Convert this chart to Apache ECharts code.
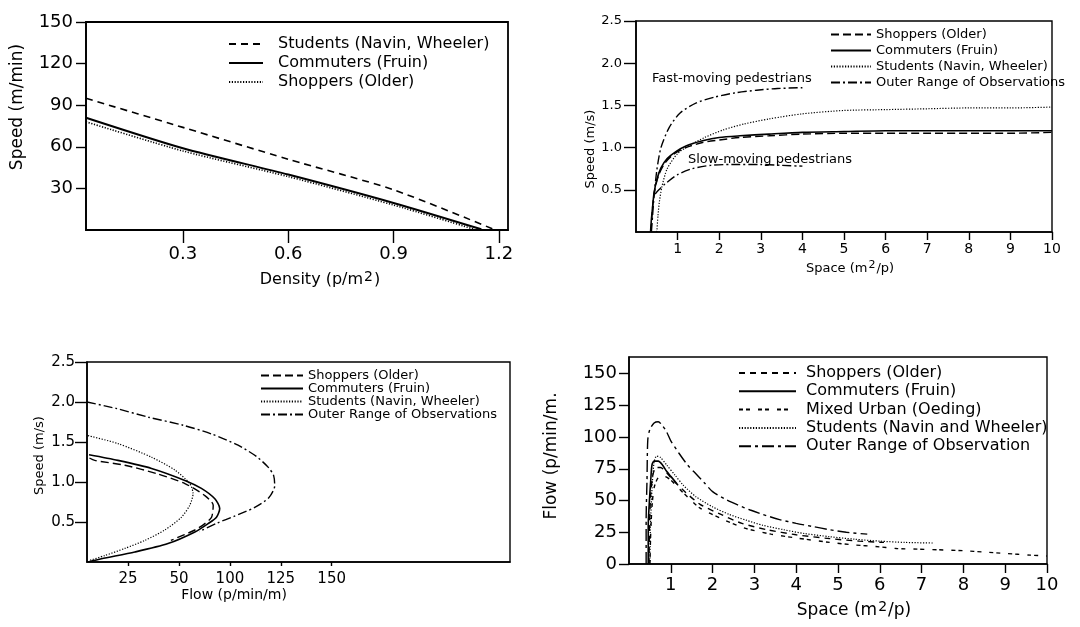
<!DOCTYPE html>
<html>
<head>
<meta charset="utf-8">
<script src="https://cdn.jsdelivr.net/npm/echarts@6/dist/echarts.min.js"></script>
<style>
  html, body { margin: 0; padding: 0; background: #fff; }
  #chart { width: 1080px; height: 627px; }
</style>
</head>
<body>
<div id="chart"></div>
<script>
// ---------- Panel A: speed (m/min) against density (p/m2) ----------
const densityTicks = [0.3, 0.6, 0.9, 1.2];
const speedMinTicks = [30, 60, 90, 120, 150];
const densStudents  = [[0.024, 95], [0.3, 74], [0.6, 51], [0.9, 29], [1.19, 0]];
const densCommuters = [[0.024, 81], [0.3, 59], [0.6, 40], [0.9, 19.5], [1.15, 0.5]];
const densShoppers  = [[0.024, 78], [0.3, 57], [0.6, 38.5], [0.9, 18], [1.13, 0.5]];

// ---------- Panel B: speed (m/s) against space (m2/p) ----------
const spaceTicks = [1, 2, 3, 4, 5, 6, 7, 8, 9, 10];
const speedMsTicks = [0.5, 1.0, 1.5, 2.0, 2.5];
const spcShoppers = [[0.36, 0], [0.4, 0.3], [0.45, 0.5], [0.55, 0.68], [0.7, 0.82], [0.9, 0.92], [1.2, 1.0], [1.6, 1.06], [2.0, 1.09], [2.5, 1.12], [3.2, 1.14], [4, 1.16], [5, 1.17], [6, 1.17], [7, 1.17], [8, 1.17], [9, 1.17], [10, 1.18]];
const spcCommuters = [[0.35, 0], [0.37, 0.15], [0.4, 0.3], [0.43, 0.45], [0.5, 0.62], [0.6, 0.76], [0.75, 0.87], [0.95, 0.95], [1.2, 1.02], [1.6, 1.08], [2.0, 1.12], [2.5, 1.14], [3.2, 1.16], [4, 1.18], [5, 1.19], [6, 1.2], [7, 1.2], [8, 1.2], [9, 1.2], [10, 1.2]];
const spcStudents = [[0.5, 0], [0.53, 0.2], [0.56, 0.35], [0.62, 0.53], [0.75, 0.75], [1.0, 0.93], [1.3, 1.03], [1.65, 1.12], [2.1, 1.21], [2.6, 1.28], [3.2, 1.34], [4, 1.4], [5, 1.44], [6, 1.45], [7, 1.46], [8, 1.47], [9, 1.47], [10, 1.48]];
const spcOuterHigh = [[0.37, 0], [0.4, 0.2], [0.43, 0.4], [0.5, 0.73], [0.6, 1.0], [0.8, 1.24], [1.06, 1.41], [1.45, 1.53], [1.9, 1.6], [2.4, 1.65], [2.9, 1.68], [3.4, 1.7], [4.0, 1.71]];
const spcOuterLow = [[0.46, 0.45], [0.55, 0.5], [0.7, 0.57], [1.0, 0.68], [1.35, 0.75], [1.8, 0.79], [2.3, 0.8], [3.0, 0.8], [3.5, 0.79], [4.0, 0.78]];

// ---------- Panel C: speed (m/s) against flow (p/min/m) ----------
const flowTicks = [25, 50, 75, 100, 125];
const flowTickLabels = ['25', '50', '100', '125', '150'];
const flwShoppers = [[6, 1.3], [8.6, 1.27], [23.4, 1.21], [39.7, 1.1], [52.9, 0.98], [62.7, 0.83], [66.8, 0.71], [66, 0.56], [62.7, 0.48], [57.8, 0.4], [46, 0.27]];
const flwCommuters = [[5.8, 1.34], [20, 1.27], [36.5, 1.17], [52.9, 1.02], [61, 0.92], [67.6, 0.79], [70, 0.67], [68.4, 0.56], [64.3, 0.48], [57.8, 0.375], [44.6, 0.23], [28.3, 0.125], [11.9, 0.04], [5.3, 0]];
const flwStudents = [[5.3, 1.58], [20, 1.48], [36.5, 1.31], [47.9, 1.15], [55.3, 0.98], [56.9, 0.855], [55.3, 0.71], [51.2, 0.56], [43, 0.4], [33.2, 0.27], [23.4, 0.17], [13.5, 0.08], [6.1, 0.02]];
const flwOuter = [[4.8, 2.0], [19, 1.92], [35, 1.81], [52, 1.71], [66, 1.6], [79, 1.46], [88, 1.32], [94, 1.18], [96.5, 1.08], [97, 0.95], [94, 0.8], [87, 0.68], [77, 0.57], [69, 0.49], [60, 0.38]];

// ---------- Panel D: flow (p/min/m) against space (m2/p) ----------
const flowAxisTicks = [0, 25, 50, 75, 100, 125, 150];
const qShoppers = [[0.48, 0], [0.49, 30], [0.52, 55], [0.57, 70], [0.65, 76], [0.75, 76], [0.9, 72], [1.0, 68], [1.3, 58], [1.7, 47], [2.2, 39], [2.7, 32], [3.3, 27], [4.0, 23], [4.8, 20], [5.5, 18], [6.1, 17]];
const qCommuters = [[0.46, 0], [0.46, 30], [0.48, 45], [0.5, 56], [0.52, 66], [0.55, 78], [0.6, 81], [0.7, 81], [0.8, 78], [0.9, 73], [1.0, 69], [1.15, 63]];
const qMixed = [[0.5, 0], [0.52, 25], [0.55, 45], [0.6, 60], [0.7, 68], [0.85, 69], [1.0, 66], [1.3, 56], [1.7, 44], [2.26, 35], [2.74, 28.5], [3.4, 23.5], [4.0, 20.5], [4.8, 17], [5.4, 15], [5.9, 13.8], [6.4, 12.2], [6.9, 11.7], [7.4, 11.2], [8.0, 10.5], [8.5, 9.4], [9.0, 8.3], [9.6, 7], [10, 6.3]];
const qStudents = [[0.5, 0], [0.51, 25], [0.53, 45], [0.56, 65], [0.6, 80], [0.66, 85], [0.75, 84], [0.9, 78], [1.1, 70], [1.3, 62], [1.6, 53], [2.0, 45], [2.4, 39], [2.8, 34.5], [3.2, 30.5], [3.7, 27], [4.2, 24], [4.8, 21.5], [5.4, 19.5], [6.0, 18], [6.6, 17], [7.3, 16.5]];
const qOuter = [[0.41, 0], [0.41, 35], [0.43, 65], [0.45, 98], [0.5, 106], [0.6, 111], [0.7, 112], [0.8, 109], [0.9, 104], [1.0, 97], [1.2, 87], [1.4, 78], [1.6, 71], [1.8, 64], [2.0, 57], [2.3, 51], [2.6, 46.5], [2.9, 42.5], [3.2, 39], [3.6, 35], [4.0, 32], [4.4, 29.5], [4.8, 27], [5.2, 25], [5.7, 23.5]];

const FONT = 'DejaVu Sans';
const INK = '#000';
const DASH = [7, 5];
const DOT = [1.2, 1.6];
const DASHDOT = [9, 3, 2, 3];
const PAIRS = [4, 3, 4, 8];

// series names carry a panel key before '|' so that each panel keeps its own styles
const label = n => n.slice(n.indexOf('|') + 1);

function curve(name, idx, data, type, width) {
  return {
    type: 'line', name, xAxisIndex: idx, yAxisIndex: idx, data,
    symbol: 'none', showSymbol: false, smooth: 0.25, silent: true,
    lineStyle: { color: INK, width: width || 1.4, type: type || 'solid' },
    itemStyle: { color: INK }
  };
}

function valueAxis(o) {
  return Object.assign({
    type: 'value',
    splitLine: { show: false },
    axisLine: { show: true, onZero: false, lineStyle: { color: INK, width: 1.6 } },
    nameLocation: 'middle'
  }, o);
}

function ticks(vals, len) {
  return { show: true, customValues: vals, length: len, lineStyle: { color: INK, width: 1.4 } };
}
function labels(vals, size, margin, fmt) {
  return { customValues: vals, fontSize: size, fontFamily: FONT, color: INK, margin, formatter: fmt };
}
function nameStyle(size, padding, rich) {
  const s = { fontSize: size, fontFamily: FONT, color: INK, padding };
  if (rich) {
    s.rich = {
      b: { fontSize: size, fontFamily: FONT, color: INK, verticalAlign: 'bottom', lineHeight: size + 2 },
      s: { fontSize: Math.round(size * 0.85), fontFamily: FONT, color: INK, verticalAlign: 'top', lineHeight: size - 1, padding: [0, 1, 5, 1] }
    };
  }
  return s;
}
function legendBox(o, size, lh, pad) {
  return Object.assign({
    orient: 'vertical', selectedMode: false, itemHeight: 10,
    itemStyle: { opacity: 0 },
    formatter: label,
    textStyle: { fontSize: size, lineHeight: lh, fontFamily: FONT, color: INK, padding: [0, 0, 0, pad] }
  }, o);
}

const fix1 = v => v.toFixed(1);

const option = {
  animation: false,
  backgroundColor: '#fff',
  grid: [
    { left: 86, top: 22, width: 422, height: 208, show: true, borderColor: INK, borderWidth: 1.8 },
    { left: 636, top: 21, width: 416, height: 211, show: true, borderColor: INK, borderWidth: 1.4 },
    { left: 87, top: 362, width: 423, height: 200, show: true, borderColor: INK, borderWidth: 1.4 },
    { left: 629, top: 357, width: 418, height: 207, show: true, borderColor: INK, borderWidth: 1.4 }
  ],
  xAxis: [
    valueAxis({ gridIndex: 0, min: 0.024, max: 1.226,
      axisTick: ticks(densityTicks, 13), axisLabel: labels(densityTicks, 18, 15, fix1),
      name: '{b|Density (p/m}{s|2}{b|)}', nameGap: 40, nameTextStyle: nameStyle(16, [0, 0, 0, 46], true) }),
    valueAxis({ gridIndex: 1, min: 0, max: 10,
      axisTick: ticks(spaceTicks, 8), axisLabel: labels(spaceTicks, 14, 10),
      name: '{b|Space (m}{s|2}{b|/p)}', nameGap: 28, nameTextStyle: nameStyle(13, [0, 0, 0, 12], true) }),
    valueAxis({ gridIndex: 2, min: 4.8, max: 212.6,
      axisTick: ticks(flowTicks, 4), axisLabel: labels(flowTicks, 15, 10, v => flowTickLabels[flowTicks.indexOf(v)]),
      name: 'Flow (p/min/m)', nameGap: 26, nameTextStyle: nameStyle(14, [0, 129, 0, 0]) }),
    valueAxis({ gridIndex: 3, min: 0, max: 10,
      axisTick: ticks(spaceTicks, 9), axisLabel: labels(spaceTicks, 18, 12),
      name: '{b|Space (m}{s|2}{b|/p)}', nameGap: 36, nameTextStyle: nameStyle(17, [0, 0, 0, 32], true) })
  ],
  yAxis: [
    valueAxis({ gridIndex: 0, min: 0, max: 150,
      axisTick: ticks(speedMinTicks, 10), axisLabel: labels(speedMinTicks, 18, 13),
      name: 'Speed (m/min)', nameGap: 60, nameTextStyle: nameStyle(17, [0, 0, 0, 38]) }),
    valueAxis({ gridIndex: 1, min: 0, max: 2.5,
      axisTick: ticks(speedMsTicks, 12), axisLabel: labels(speedMsTicks, 13, 14, fix1),
      name: 'Speed (m/s)', nameGap: 37, nameTextStyle: nameStyle(13, [0, 45, 0, 0]) }),
    valueAxis({ gridIndex: 2, min: 0, max: 2.5,
      axisTick: ticks(speedMsTicks, 12), axisLabel: labels(speedMsTicks, 15, 12, fix1),
      name: 'Speed (m/s)', nameGap: 41, nameTextStyle: nameStyle(13, [0, 0, 0, 13]) }),
    valueAxis({ gridIndex: 3, min: 0, max: 163,
      axisTick: ticks(flowAxisTicks, 10), axisLabel: labels(flowAxisTicks, 18, 12),
      name: 'Flow (p/min/m.', nameGap: 69, nameTextStyle: nameStyle(17, [0, 0, 0, 9]) })
  ],
  legend: [
    legendBox({ left: 223, top: 31, itemWidth: 34, itemGap: 3,
      data: ['a|Students (Navin, Wheeler)', 'a|Commuters (Fruin)', 'a|Shoppers (Older)'] }, 16, 16, 10),
    legendBox({ left: 825, top: 23, itemWidth: 40, itemGap: 3,
      data: ['b|Shoppers (Older)', 'b|Commuters (Fruin)', 'b|Students (Navin, Wheeler)', 'b|Outer Range of Observations'] }, 13, 13, 0),
    legendBox({ left: 255, top: 364, itemWidth: 42, itemGap: 0,
      data: ['c|Shoppers (Older)', 'c|Commuters (Fruin)', 'c|Students (Navin, Wheeler)', 'c|Outer Range of Observations'] }, 13, 12, 0),
    legendBox({ left: 733, top: 359, itemWidth: 57, itemGap: 0.3,
      data: ['d|Shoppers (Older)', 'd|Commuters (Fruin)', 'd|Mixed Urban (Oeding)', 'd|Students (Navin and Wheeler)', 'd|Outer Range of Observation'] }, 16, 18, 5)
  ],
  graphic: [
    { type: 'text', x: 652, y: 72, silent: true,
      style: { text: 'Fast-moving pedestrians', fontSize: 13, fontFamily: FONT, fill: INK, verticalAlign: 'top' } },
    { type: 'text', x: 688, y: 153, silent: true,
      style: { text: 'Slow-moving pedestrians', fontSize: 13, fontFamily: FONT, fill: INK, verticalAlign: 'top' } }
  ],
  series: [
    curve('a|Students (Navin, Wheeler)', 0, densStudents, DASH, 1.6),
    curve('a|Commuters (Fruin)', 0, densCommuters, 'solid', 2),
    curve('a|Shoppers (Older)', 0, densShoppers, DOT, 1.6),

    curve('b|Shoppers (Older)', 1, spcShoppers, [8, 4], 1.4),
    curve('b|Commuters (Fruin)', 1, spcCommuters, 'solid', 1.6),
    curve('b|Students (Navin, Wheeler)', 1, spcStudents, DOT, 1.2),
    curve('b|Outer Range of Observations', 1, spcOuterHigh, DASHDOT, 1.4),
    curve('b|Outer Range of Observations', 1, spcOuterLow, DASHDOT, 1.4),

    curve('c|Shoppers (Older)', 2, flwShoppers, [8, 4], 1.4),
    curve('c|Commuters (Fruin)', 2, flwCommuters, 'solid', 1.6),
    curve('c|Students (Navin, Wheeler)', 2, flwStudents, DOT, 1.2),
    curve('c|Outer Range of Observations', 2, flwOuter, DASHDOT, 1.4),

    curve('d|Shoppers (Older)', 3, qShoppers, [6, 5], 1.4),
    curve('d|Commuters (Fruin)', 3, qCommuters, 'solid', 1.6),
    curve('d|Mixed Urban (Oeding)', 3, qMixed, PAIRS, 1.4),
    curve('d|Students (Navin and Wheeler)', 3, qStudents, DOT, 1.2),
    curve('d|Outer Range of Observation', 3, qOuter, [12, 4, 3, 4], 1.4)
  ]
};

const chart = echarts.init(document.getElementById('chart'), null, { renderer: 'canvas' });
chart.setOption(option);
</script>
</body>
</html>
